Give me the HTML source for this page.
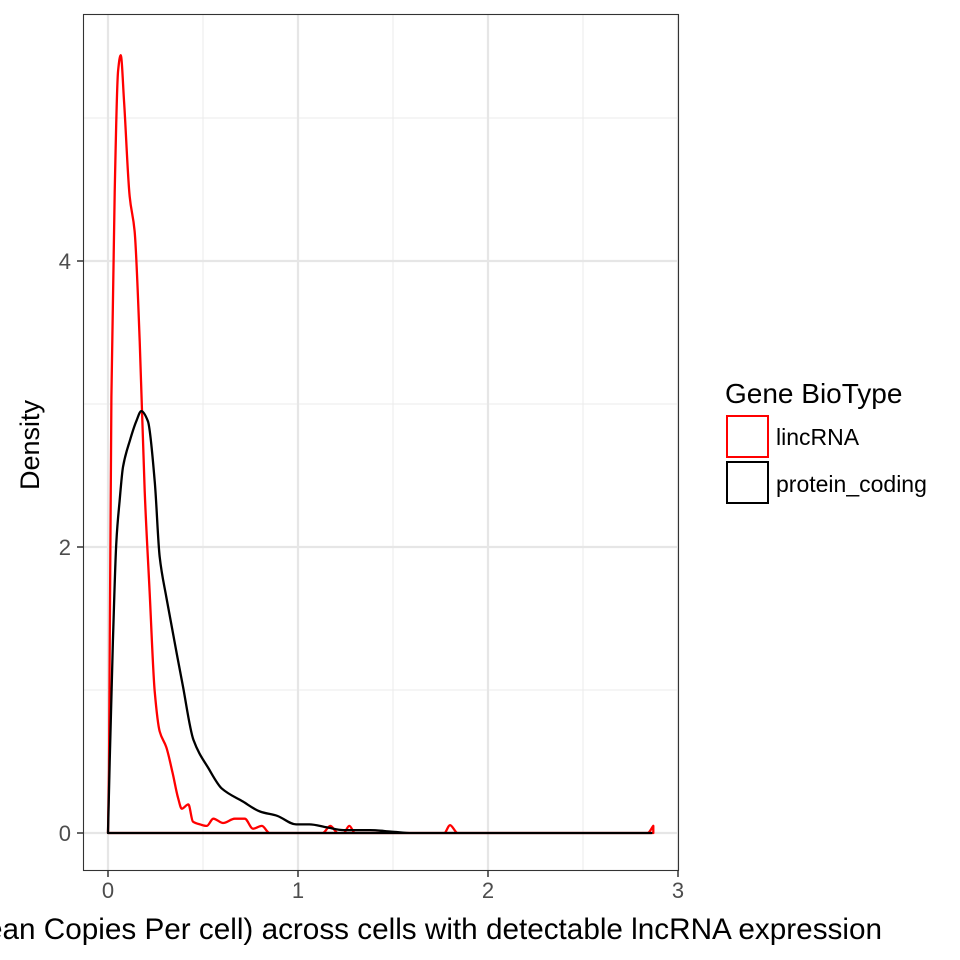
<!DOCTYPE html>
<html><head><meta charset="utf-8"><style>
html,body{margin:0;padding:0;background:#fff;}
svg{display:block;font-family:"Liberation Sans",Arial,sans-serif;}
</style></head><body>
<svg id="chart" width="960" height="960" viewBox="0 0 960 960">
<rect width="960" height="960" fill="#fff"/>
<g id="grid"></g>
<g id="series"></g>
<rect x="83.5" y="14.5" width="595" height="856" fill="none" stroke="#333" stroke-width="1.1"/>
<g id="axes"></g>
<text x="39" y="445" transform="rotate(-90 39 445)" text-anchor="middle" font-size="27" fill="#000">Density</text>
<text x="882" y="939" text-anchor="end" font-size="29.7" fill="#000">log10(Mean Copies Per cell) across cells with detectable lncRNA expression</text>
<g>
<text x="725" y="403" font-size="28" fill="#000">Gene BioType</text>
<rect x="727" y="416" width="41" height="41" fill="#fff" stroke="#ff0000" stroke-width="2"/>
<text x="776" y="445" font-size="23" fill="#000">lincRNA</text>
<rect x="727" y="462" width="41" height="41" fill="#fff" stroke="#000" stroke-width="2"/>
<text x="776" y="492" font-size="23" fill="#000">protein_coding</text>
</g>
</svg>
<script>
const xTicks = [0, 1, 2, 3];
const xMinor = [0.5, 1.5, 2.5];
const yTicks = [0, 2, 4];
const yMinor = [1, 3, 5];
const lincX = [0, 0.005, 0.018, 0.035, 0.053, 0.067, 0.085, 0.114, 0.14, 0.167, 0.193, 0.219, 0.246, 0.272, 0.307, 0.34, 0.368, 0.388, 0.423, 0.447, 0.484, 0.52, 0.554, 0.606, 0.667, 0.72, 0.763, 0.81, 0.85, 1.13, 1.17, 1.21, 1.24, 1.27, 1.3, 1.77, 1.80, 1.84, 2.84, 2.87, 2.87];
const lincY = [0, 0.44, 3.05, 4.48, 5.33, 5.44, 5.1, 4.45, 4.21, 3.44, 2.39, 1.69, 0.99, 0.71, 0.6, 0.42, 0.25, 0.17, 0.2, 0.08, 0.06, 0.05, 0.1, 0.07, 0.1, 0.1, 0.03, 0.05, 0, 0, 0.05, 0, 0, 0.05, 0, 0, 0.055, 0, 0, 0.05, 0];
const protX = [0, 0.009, 0.026, 0.044, 0.061, 0.079, 0.114, 0.149, 0.175, 0.21, 0.246, 0.272, 0.307, 0.35, 0.395, 0.45, 0.53, 0.6, 0.71, 0.8, 0.89, 0.99, 1.06, 1.15, 1.24, 1.38, 1.49, 1.6, 2.86, 2.86];
const protY = [0, 0.5, 1.34, 2.04, 2.32, 2.56, 2.74, 2.88, 2.95, 2.88, 2.46, 1.93, 1.65, 1.34, 1.02, 0.65, 0.45, 0.31, 0.22, 0.15, 0.12, 0.06, 0.06, 0.04, 0.02, 0.02, 0.01, 0, 0, 0];

const X = v => 108 + v * 190;
const Y = v => 833 - v * 143;
const NS = 'http://www.w3.org/2000/svg';
function mk(tag, attrs, parent) {
  const el = document.createElementNS(NS, tag);
  for (const k in attrs) el.setAttribute(k, attrs[k]);
  parent.appendChild(el);
  return el;
}
const grid = document.getElementById('grid');
const axes = document.getElementById('axes');
const series = document.getElementById('series');
yMinor.forEach(v => {
  const l = mk('line', {x1: 84, x2: 678, y1: Y(v), y2: Y(v), stroke: '#ebebeb', 'stroke-width': 1}, grid);
  
  
});
xMinor.forEach(v => {
  const l = mk('line', {x1: X(v), x2: X(v), y1: 15, y2: 870, stroke: '#ebebeb', 'stroke-width': 1}, grid);
  
  
});
yTicks.forEach(v => {
  const l = mk('line', {x1: 84, x2: 678, y1: Y(v), y2: Y(v), stroke: '#e6e6e6', 'stroke-width': 2.2}, grid);
  
  
  const t = mk('line', {x1: 77, x2: 83, y1: Y(v), y2: Y(v), stroke: '#333', 'stroke-width': 1.5}, axes);
  
  
  const tx = mk('text', {x: 71, y: Y(v) + 8, 'text-anchor': 'end', 'font-size': 22, fill: '#4d4d4d'}, axes);
  tx.textContent = v;
  
  
});
xTicks.forEach(v => {
  const l = mk('line', {x1: X(v), x2: X(v), y1: 15, y2: 870, stroke: '#e6e6e6', 'stroke-width': 2.2}, grid);
  
  
  const t = mk('line', {x1: X(v), x2: X(v), y1: 871, y2: 877, stroke: '#333', 'stroke-width': 1.5}, axes);
  
  
  const tx = mk('text', {x: X(v), y: 898, 'text-anchor': 'middle', 'font-size': 22, fill: '#4d4d4d'}, axes);
  tx.textContent = v;
  
  
});
// monotone-x cubic through interior points, straight vertical ends, closed along baseline
function path(xs, ys) {
  const P = xs.map((x, i) => [X(x), Y(ys[i])]);
  const n = P.length;
  const Q = P.slice(1, n - 1);
  const m = Q.length;
  const dl = [], sl = [];
  for (let i = 0; i < m - 1; i++) {
    dl.push(Q[i + 1][0] - Q[i][0]);
    sl.push((Q[i + 1][1] - Q[i][1]) / Math.max(dl[i], 1e-6));
  }
  const t = [];
  for (let i = 0; i < m; i++) {
    if (i === 0) t.push(sl[0]);
    else if (i === m - 1) t.push(sl[m - 2]);
    else if (sl[i - 1] * sl[i] <= 0) t.push(0);
    else t.push(2 / (1 / sl[i - 1] + 1 / sl[i]));
  }
  let d = 'M' + P[0][0].toFixed(1) + ',' + P[0][1].toFixed(1) + 'L' + Q[0][0].toFixed(1) + ',' + Q[0][1].toFixed(1);
  for (let i = 0; i < m - 1; i++) {
    const h = dl[i] / 3;
    d += 'C' + (Q[i][0] + h).toFixed(1) + ',' + (Q[i][1] + t[i] * h).toFixed(1) + ' ' +
      (Q[i + 1][0] - h).toFixed(1) + ',' + (Q[i + 1][1] - t[i + 1] * h).toFixed(1) + ' ' +
      Q[i + 1][0].toFixed(1) + ',' + Q[i + 1][1].toFixed(1);
  }
  d += 'L' + P[n - 1][0].toFixed(1) + ',' + P[n - 1][1].toFixed(1) + 'Z';
  return d;
}
const p1 = mk('path', {d: path(lincX, lincY), fill: 'none', stroke: '#ff0000', 'stroke-width': 2.3, 'stroke-linejoin': 'round'}, series);


const p2 = mk('path', {d: path(protX, protY), fill: 'none', stroke: '#000', 'stroke-width': 2.3, 'stroke-linejoin': 'round'}, series);


</script>
</body></html>
